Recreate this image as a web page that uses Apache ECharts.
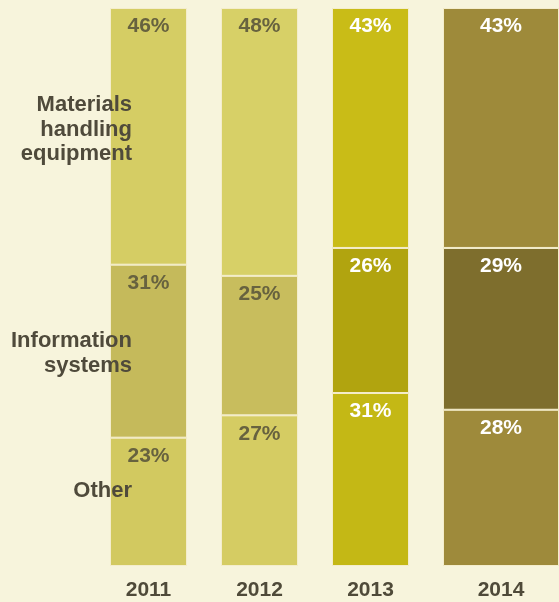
<!DOCTYPE html>
<html>
<head>
<meta charset="utf-8">
<script src="https://cdn.jsdelivr.net/npm/echarts@6/dist/echarts.min.js"></script>
<style>
  html, body { margin: 0; padding: 0; background: #f7f4dc; }
  #chart { width: 559px; height: 602px; }
</style>
</head>
<body>
<div id="chart"></div>
<script>
// Capital spending mix by year (percent of total)
const years = ['2011', '2012', '2013', '2014'];
const segmentNames = ['Materials handling equipment', 'Information systems', 'Other'];
const materials = [46, 48, 43, 43];
const information = [31, 25, 26, 29];
const other = [23, 27, 31, 28];

// Fill colours per year: [materials, information, other]
const palette = {
  '2011': ['#d5cd64', '#c5ba5b', '#d2c960'],
  '2012': ['#d7d067', '#c8bd5d', '#d5cc63'],
  '2013': ['#c9bc17', '#b1a40f', '#c4b815'],
  '2014': ['#9e8a3a', '#7e6e2d', '#9e8a3b']
};
const labelColors = { '2011': '#67623f', '2012': '#67623f', '2013': '#ffffff', '2014': '#ffffff' };

const FONT = '"Liberation Sans", Arial, sans-serif';
const earlyYears = years.slice(0, 3);
const lateYears = years.slice(3);

// Stack order bottom-up: Other, Information systems, Materials handling
const layers = [
  { values: other, colorIdx: 2 },
  { values: information, colorIdx: 1 },
  { values: materials, colorIdx: 0 }
];

function makeItems(yearList, offset, layer) {
  return yearList.map((y, i) => ({
    value: layer.values[offset + i],
    itemStyle: { color: palette[y][layer.colorIdx] },
    label: { color: labelColors[y] }
  }));
}

const barLabel = {
  show: true, position: 'insideTop', distance: 8,
  formatter: '{c}%', fontFamily: FONT, fontWeight: 'bold', fontSize: 21
};

const series = [];
layers.forEach((layer, li) => {
  series.push({
    type: 'bar', name: segmentNames[2 - li], stack: 'a',
    xAxisIndex: 0, yAxisIndex: 0, barWidth: 77,
    data: makeItems(earlyYears, 0, layer),
    itemStyle: { borderColor: '#f4edcc', borderWidth: 1 },
    label: barLabel,
    silent: true
  });
  series.push({
    type: 'bar', name: segmentNames[2 - li], stack: 'b',
    xAxisIndex: 1, yAxisIndex: 1, barWidth: '100%',
    data: makeItems(lateYears, 3, layer),
    itemStyle: { borderColor: '#f4edcc', borderWidth: 1 },
    label: barLabel,
    silent: true
  });
});

const axisCommon = {
  type: 'category',
  axisLine: { show: false }, axisTick: { show: false },
  axisLabel: { color: '#4f4a39', fontFamily: FONT, fontWeight: 'bold', fontSize: 21, margin: 14 }
};
const yCommon = { type: 'value', min: 0, max: 100, show: false };

// Segment names down the left side, drawn over the first bar
const nameStyle = {
  fill: '#4f4a3b', font: 'bold 22px ' + FONT, textAlign: 'right', textVerticalAlign: 'middle'
};
const graphic = [
  { type: 'text', z: 100, right: 427, top: 93, style: Object.assign({}, nameStyle, { text: 'Materials\nhandling\nequipment', lineHeight: 24.5 }) },
  { type: 'text', z: 100, right: 427, top: 329, style: Object.assign({}, nameStyle, { text: 'Information\nsystems', lineHeight: 24.5 }) },
  { type: 'text', z: 100, right: 427, top: 479, style: Object.assign({}, nameStyle, { text: 'Other', lineHeight: 24.5 }) }
];

const chart = echarts.init(document.getElementById('chart'));
chart.setOption({
  backgroundColor: '#f7f4dc',
  animation: false,
  grid: [
    { left: 93, width: 333, top: 8, height: 558 },
    { left: 443, width: 116, top: 8, height: 558 }
  ],
  xAxis: [
    Object.assign({ gridIndex: 0, data: earlyYears }, axisCommon),
    Object.assign({ gridIndex: 1, data: lateYears }, axisCommon)
  ],
  yAxis: [
    Object.assign({ gridIndex: 0 }, yCommon),
    Object.assign({ gridIndex: 1 }, yCommon)
  ],
  series: series,
  graphic: graphic
});
</script>
</body>
</html>
